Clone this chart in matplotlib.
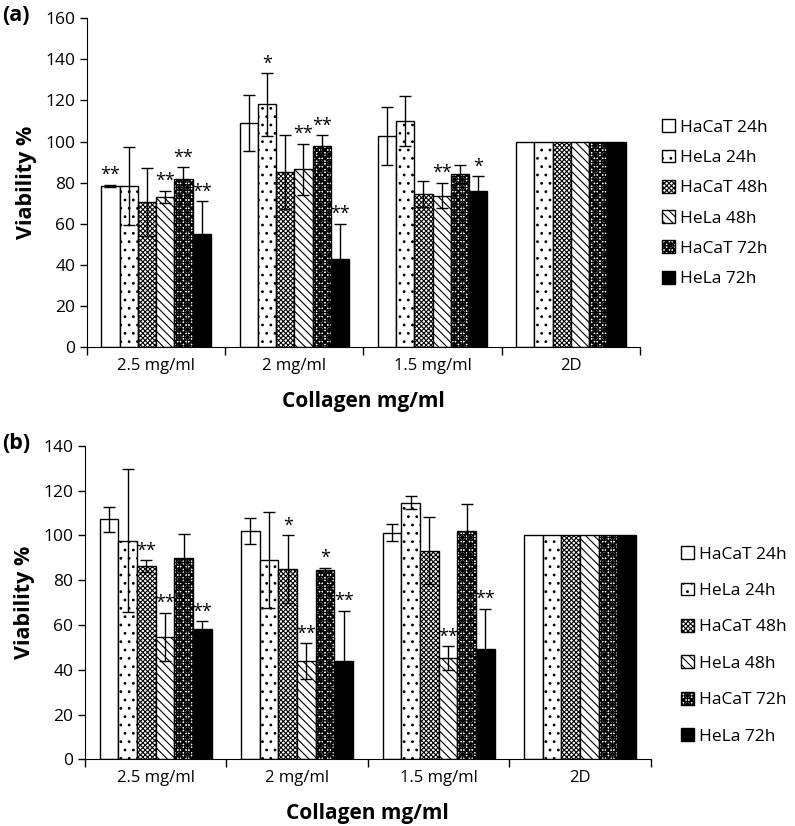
import numpy as np
import matplotlib
matplotlib.use("Agg")
import matplotlib.pyplot as plt

plt.rcParams['font.family'] = ['Open Sans', 'DejaVu Sans']
plt.rcParams['hatch.linewidth'] = 0.8

groups = ['2.5 mg/ml', '2 mg/ml', '1.5 mg/ml', '2D']
series = ['HaCaT 24h', 'HeLa 24h', 'HaCaT 48h', 'HeLa 48h', 'HaCaT 72h', 'HeLa 72h']

# panel (a): rows = series, columns = groups
vals_a = [[78.5, 109, 102.6, 100],
          [78.5, 118, 110, 100],
          [70.5, 85, 74.5, 100],
          [73, 86.5, 73.7, 100],
          [82, 98, 84.2, 100],
          [55, 43, 76, 100]]
err_a = [[0.5, 13.7, 14, 0],
         [19, 15.3, 12, 0],
         [16.5, 18, 6.3, 0],
         [3, 12.5, 6.2, 0],
         [5.5, 5, 4.3, 0],
         [16, 17, 7, 0]]
sig_a = [['**', '', '', ''],
         ['', '*', '', ''],
         ['', '', '', ''],
         ['**', '**', '**', ''],
         ['**', '**', '', ''],
         ['**', '**', '*', '']]

# panel (b)
vals_b = [[107.2, 101.9, 101.3, 100],
          [97.7, 89, 114.7, 100],
          [86.3, 85, 93.2, 100],
          [54.8, 43.8, 45.2, 100],
          [89.8, 84.7, 102.2, 100],
          [58.3, 43.7, 49.2, 100]]
err_b = [[5.6, 5.7, 3.7, 0],
         [32, 21.4, 2.8, 0],
         [2.6, 15.1, 15, 0],
         [10.7, 8, 5.2, 0],
         [10.7, 0.9, 12, 0],
         [3.3, 22.6, 18, 0]]
sig_b = [['', '', '', ''],
         ['', '', '', ''],
         ['**', '*', '', ''],
         ['**', '**', '**', ''],
         ['', '*', '', ''],
         ['**', '**', '**', '']]

faces = ['white', 'white', 'white', 'white', 'white', 'black']
hatches = ['', '..', 'xxxxxxx', '\\\\\\\\', '++++++xxxx', '']

fig = plt.figure(figsize=(7.95, 8.26), dpi=100)


def panel(rect, vals, errs, sigs, ymax, tag, leg_x, leg_y, leg_space):
    ax = fig.add_axes(rect)
    x = np.arange(len(groups))
    w = 0.132
    handles = []
    for i, s in enumerate(series):
        pos = x - 2.5 * w + i * w
        b = ax.bar(pos, vals[i], w, color=faces[i], edgecolor='black',
                   hatch=hatches[i], linewidth=1.0, label=s)
        handles.append(b)
        e = np.array(errs[i], dtype=float)
        m = e > 0
        ax.errorbar(pos[m], np.array(vals[i])[m], yerr=e[m], fmt='none',
                    ecolor='black', elinewidth=1.0, capsize=4, capthick=1.0)
        for j in range(len(groups)):
            if sigs[i][j]:
                ax.text(pos[j], vals[i][j] + errs[i][j] + 0.3, sigs[i][j],
                        ha='center', va='bottom', fontsize=13)
    ax.set_xlim(-0.5, len(groups) - 0.5)
    ax.set_ylim(0, ymax)
    ax.set_yticks(np.arange(0, ymax + 1, 20))
    ax.set_xticks(x)
    ax.set_xticklabels(groups)
    ax.set_xticks(np.arange(-0.5, len(groups)), minor=True)
    ax.tick_params(axis='x', which='major', length=0, labelsize=12, pad=8)
    ax.tick_params(axis='x', which='minor', length=6, width=1)
    ax.tick_params(axis='y', labelsize=12.5, length=5, width=1)
    for sp in ['top', 'right']:
        ax.spines[sp].set_visible(False)
    ax.set_ylabel('Viability %', fontsize=15.5, fontweight='bold', labelpad=6)
    ax.set_xlabel('Collagen mg/ml', fontsize=15, fontweight='bold', labelpad=12)
    fig.text(0.003, rect[1] + rect[3] + 0.003, tag, fontsize=15.5,
             fontweight='bold', va='center')
    fig.legend(handles=handles, labels=series, loc='upper left',
               bbox_to_anchor=(leg_x, leg_y), frameon=False, fontsize=12.5,
               handlelength=0.75, handleheight=0.75, handletextpad=0.3,
               labelspacing=leg_space, borderaxespad=0)
    return ax


panel([0.1094, 0.5795, 0.6956, 0.3987], vals_a, err_a, sig_a, 160, '(a)',
      0.824, 0.864, 0.8)
panel([0.1069, 0.0808, 0.7116, 0.3793], vals_b, err_b, sig_b, 140, '(b)',
      0.848, 0.347, 1.15)

fig.savefig('out.png', dpi=100)
